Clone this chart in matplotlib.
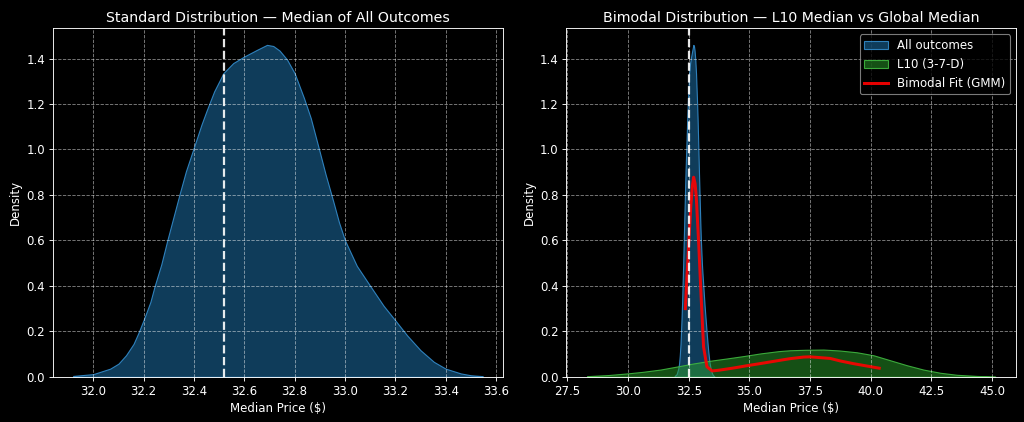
import numpy as np
import matplotlib
matplotlib.use("Agg")
import matplotlib.pyplot as plt

# KDE of the median price over all outcomes
all_x = [31.92, 32.0, 32.067, 32.1, 32.13, 32.16, 32.18, 32.2, 32.227, 32.244,
         32.27, 32.294, 32.318, 32.342, 32.368, 32.397, 32.43, 32.45, 32.48,
         32.517, 32.556, 32.6, 32.65, 32.69, 32.715, 32.74, 32.77, 32.8, 32.837,
         32.864, 32.897, 32.923, 32.953, 32.976, 33.0, 33.047, 33.1, 33.153, 33.2,
         33.247, 33.3, 33.353, 33.4, 33.46, 33.5, 33.547]
all_y = [0.004, 0.012, 0.036, 0.058, 0.095, 0.145, 0.195, 0.25, 0.33, 0.40,
         0.494, 0.60, 0.70, 0.80, 0.904, 1.0, 1.11, 1.17, 1.255,
         1.336, 1.38, 1.409, 1.438, 1.46, 1.455, 1.435, 1.395, 1.335, 1.226,
         1.138, 1.0, 0.89, 0.773, 0.68, 0.60, 0.488, 0.40, 0.313, 0.248,
         0.182, 0.117, 0.066, 0.036, 0.015, 0.007, 0.003]

# KDE of the L10 (3-7-D) medians
l10_x = [28.31, 29.2, 29.96, 30.6, 31.33, 32.0, 32.7, 33.4, 34.08, 34.8, 35.45,
         36.2, 36.68, 37.3, 38.05, 38.7, 39.43, 40.11, 40.8, 41.49, 42.17,
         42.86, 43.55, 44.37, 45.13]
l10_y = [0.003, 0.008, 0.015, 0.022, 0.032, 0.045, 0.059, 0.071, 0.081, 0.092, 0.103,
         0.113, 0.117, 0.119, 0.120, 0.116, 0.108, 0.095, 0.073, 0.051, 0.032,
         0.018, 0.009, 0.004, 0.001]

# Gaussian mixture fit
gmm_x = [32.36, 32.43, 32.5, 32.59, 32.65, 32.70, 32.76, 32.81, 32.91, 33.01,
         33.11, 33.25, 33.46, 33.73, 34.3, 34.9, 35.6, 36.27, 36.68, 37.23,
         37.5, 38.33, 38.74, 39.29, 40.35]
gmm_y = [0.30, 0.45, 0.586, 0.76, 0.84, 0.878, 0.85, 0.79, 0.586, 0.351,
         0.132, 0.044, 0.026, 0.029, 0.038, 0.049, 0.061, 0.073, 0.080, 0.087,
         0.088, 0.081, 0.070, 0.058, 0.038]

global_median = 32.52

plt.style.use("dark_background")
plt.rcParams["font.size"] = 10.6
fig, (ax1, ax2) = plt.subplots(1, 2, figsize=(12.8, 5.275), dpi=80)
fig.subplots_adjust(left=0.0515, right=0.9925, bottom=0.107, top=0.933, wspace=0.142)

# left panel
ax1.fill_between(all_x, all_y, facecolor=(0.12, 0.47, 0.71, 0.5),
                 edgecolor=(0.2, 0.55, 0.8, 0.9), linewidth=1)
ax1.axvline(global_median, color="white", linestyle="--", linewidth=2, alpha=0.9)
ax1.set_xlim(31.839, 33.626)
ax1.set_ylim(0, 1.533)
ax1.set_title("Standard Distribution \u2014 Median of All Outcomes")
ax1.set_xlabel("Median Price ($)")
ax1.set_ylabel("Density")
ax1.grid(True, linestyle="--", alpha=0.5)

# right panel
ax2.fill_between(all_x, all_y, facecolor=(0.12, 0.47, 0.71, 0.5),
                 edgecolor=(0.2, 0.55, 0.8, 0.9), linewidth=1, label="All outcomes")
ax2.fill_between(l10_x, l10_y, facecolor=(0.17, 0.63, 0.17, 0.5),
                 edgecolor=(0.25, 0.72, 0.25, 0.9), linewidth=1, label="L10 (3-7-D)")
ax2.plot(gmm_x, gmm_y, color="red", linewidth=2.7, alpha=0.9, label="Bimodal Fit (GMM)")
ax2.axvline(global_median, color="white", linestyle="--", linewidth=2, alpha=0.9)
ax2.set_xlim(27.46, 46.0)
ax2.set_ylim(0, 1.533)
ax2.set_title("Bimodal Distribution \u2014 L10 Median vs Global Median")
ax2.set_xlabel("Median Price ($)")
ax2.set_ylabel("Density")
ax2.grid(True, linestyle="--", alpha=0.5)
ax2.legend(loc="upper right", facecolor="black", edgecolor="0.6")

plt.savefig("out.png", dpi=80)
